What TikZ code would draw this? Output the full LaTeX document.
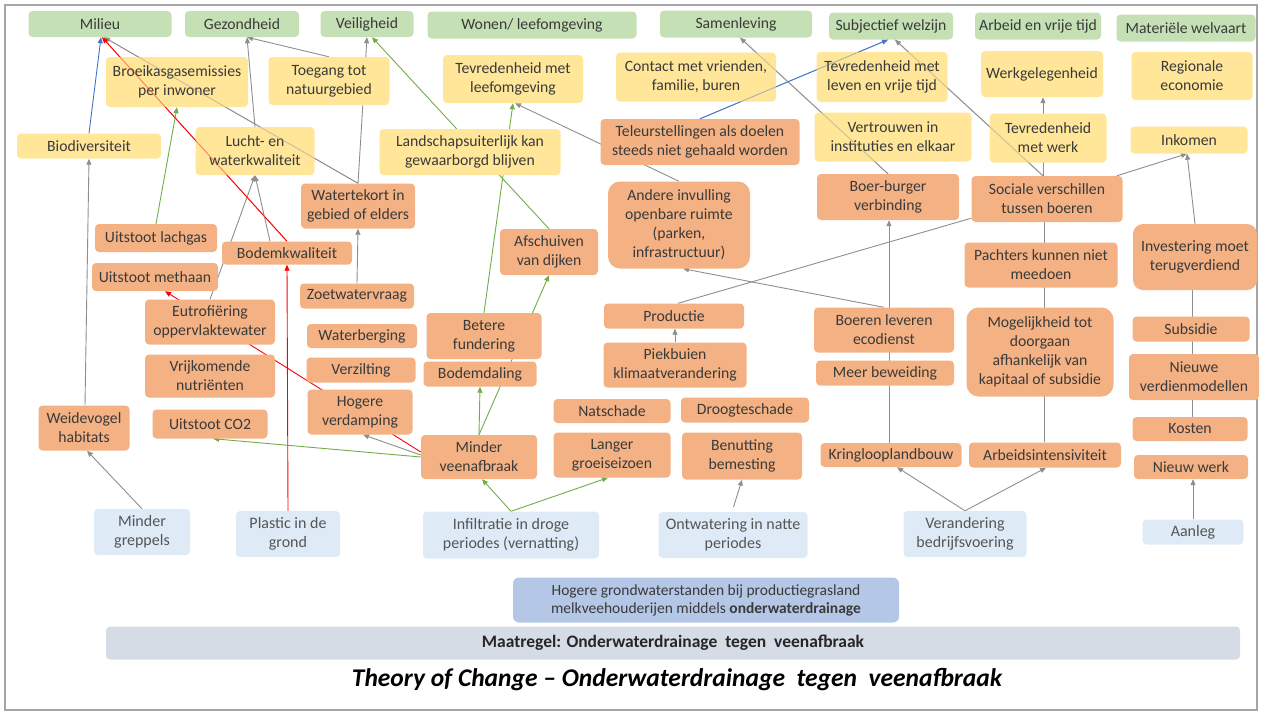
\documentclass[tikz,border=0pt]{standalone}
\usepackage{fontspec}
\setmainfont{Carlito}
\usetikzlibrary{arrows.meta,backgrounds}
\definecolor{cGreen}{HTML}{C5E0B4}
\definecolor{cYellow}{HTML}{FFE699}
\definecolor{cOrange}{HTML}{F4B183}
\definecolor{cLBlue}{HTML}{DEEBF7}
\definecolor{cMBlue}{HTML}{B4C7E7}
\definecolor{cBar}{HTML}{D6DCE5}
\definecolor{cTxt}{HTML}{3A3A3A}
\definecolor{cTxtL}{HTML}{555555}
\definecolor{cLine}{HTML}{8E8E8E}
\definecolor{cLGreen}{HTML}{70AD47}
\definecolor{cLRed}{HTML}{FF0000}
\definecolor{cLBlu}{HTML}{4472C4}
\definecolor{cFrame}{HTML}{A6A6A6}
\begin{document}
\begin{tikzpicture}[x=1pt,y=-1pt,
 box/.style={rounded corners=4pt, inner sep=1pt, align=center, text=cTxt, font=\fontsize{15.7}{19}\selectfont},
 sz/.style 2 args={minimum width=#1pt, minimum height=#2pt},
 gbox/.style={box,fill=cGreen},
 ybox/.style={box,fill=cYellow},
 obox/.style={box,fill=cOrange},
 bbox/.style={box,fill=cLBlue,text=cTxtL,font=\fontsize{16}{19}\selectfont},
 ln/.style={line width=0.9pt, draw=cLine},
 arr/.style={ln, -{Triangle[length=6pt,width=5pt]}},
 garr/.style={arr, draw=cLGreen},
 rarr/.style={arr, draw=cLRed},
 barr/.style={arr, draw=cLBlu},
 over/.style={line width=0.9pt, draw opacity=0.45}
]
\useasboundingbox (0,0) rectangle (1264,713);
% top row
\node[gbox,sz={143}{26}] (milieu) at (100,24) {Milieu};
\node[gbox,sz={114}{26}] (gezond) at (242,24) {Gezondheid};
\node[gbox,sz={93}{26}] (veilig) at (367,24) {Veiligheid};
\node[gbox,sz={209}{27}] (wonen) at (532,25) {Wonen/ leefomgeving};
\node[gbox,sz={152}{27}] (samen) at (736,24) {Samenleving};
\node[gbox,sz={124}{27}] (subj) at (891,26) {Subjectief welzijn};
\node[gbox,sz={126}{27}] (arbeid) at (1038,26) {Arbeid en vrije tijd};
\node[gbox,sz={139}{27}] (materi) at (1186,28) {Materiële welvaart};
% yellow
\node[ybox,sz={142}{50}] (broeik) at (177,82) {Broeikasgasemissies\\per inwoner};
\node[ybox,sz={121}{48}] (toegang) at (329,81) {Toegang tot\\natuurgebied};
\node[ybox,sz={144}{25}] (biodiv) at (89,146) {Biodiversiteit};
\node[ybox,sz={119}{48}] (lucht) at (255,151) {Lucht- en\\waterkwaliteit};
\node[ybox,sz={181}{46}] (landsch) at (470,152) {Landschapsuiterlijk kan\\gewaarborgd blijven};
\node[ybox,sz={140}{48}] (tevleef) at (513,79) {Tevredenheid met\\leefomgeving};
\node[ybox,sz={160}{49}] (contact) at (696,77) {Contact met vrienden,\\familie, buren};
\node[ybox,sz={131}{50}] (tevleven) at (882,77) {Tevredenheid met\\leven en vrije tijd};
\node[ybox,sz={122}{46}] (werkgel) at (1042,74) {Werkgelegenheid};
\node[ybox,sz={121}{48}] (regio) at (1192,76) {Regionale\\economie};
\node[ybox,sz={157}{49}] (vertr) at (893,137) {Vertrouwen in\\instituties en elkaar};
\node[ybox,sz={117}{49}] (tevwerk) at (1048,138) {Tevredenheid\\met werk};
\node[ybox,sz={117}{27}] (inkomen) at (1189,140) {Inkomen};
% orange
\node[obox,sz={199}{46}] (teleur) at (700,142) {Teleurstellingen als doelen\\steeds niet gehaald worden};
\node[obox,sz={142}{87},rounded corners=12pt] (andere) at (679,225) {Andere invulling\\openbare ruimte\\(parken,\\infrastructuur)};
\node[obox,sz={142}{46}] (boerburg) at (888,197) {Boer-burger\\verbinding};
\node[obox,sz={151}{46}] (sociaal) at (1047,199) {Sociale verschillen\\tussen boeren};
\node[obox,sz={114}{45}] (watert) at (358,206) {Watertekort in\\gebied of elders};
\node[obox,sz={122}{28}] (lachgas) at (156,238) {Uitstoot lachgas};
\node[obox,sz={130}{23}] (bodemk) at (287,253) {Bodemkwaliteit};
\node[obox,sz={126}{28}] (methaan) at (155,277) {Uitstoot methaan};
\node[obox,sz={114}{25}] (zoetw) at (357,296) {Zoetwatervraag};
\node[obox,sz={130}{45}] (eutro) at (210,322) {Eutrofiëring\\oppervlaktewater};
\node[obox,sz={110}{24}] (waterb) at (362,336) {Waterberging};
\node[obox,sz={130}{43}] (nutri) at (210,376) {Vrijkomende\\nutriënten};
\node[obox,sz={109}{25}] (verzilt) at (361,370) {Verzilting};
\node[obox,sz={91}{45}] (weide) at (84,428) {Weidevogel\\habitats};
\node[obox,sz={115}{29}] (co2) at (210,424) {Uitstoot CO2};
\node[obox,sz={105}{45}] (verdamp) at (360,412) {Hogere\\verdamping};
\node[obox,sz={115}{46}] (fundering) at (484,336) {Betere\\fundering};
\node[obox,sz={113}{25}] (bodemd) at (480,374) {Bodemdaling};
\node[obox,sz={98}{46}] (afschuiv) at (549,252) {Afschuiven\\van dijken};
\node[obox,sz={116}{44}] (veen) at (479,457) {Minder\\veenafbraak};
\node[obox,sz={140}{25}] (productie) at (674,316) {Productie};
\node[obox,sz={143}{45}] (piek) at (675,365) {Piekbuien\\klimaatverandering};
\node[obox,sz={117}{24}] (natsch) at (612,411) {Natschade};
\node[obox,sz={128}{25}] (droogte) at (745,410) {Droogteschade};
\node[obox,sz={117}{45}] (groei) at (612,455) {Langer\\groeiseizoen};
\node[obox,sz={120}{47}] (benut) at (742,456) {Benutting\\bemesting};
\node[obox,sz={140}{45}] (ecodienst) at (884,330) {Boeren leveren\\ecodienst};
\node[obox,sz={138}{25}] (beweid) at (885,373) {Meer beweiding};
\node[obox,sz={141}{24}] (kringloop) at (891,455) {Kringlooplandbouw};
\node[obox,sz={153}{45}] (pachters) at (1041,265) {Pachters kunnen niet\\meedoen};
\node[obox,sz={147}{89},rounded corners=12pt] (mogelijk) at (1040,352) {Mogelijkheid tot\\doorgaan\\afhankelijk van\\kapitaal of subsidie};
\node[obox,sz={152}{25}] (arbeidsint) at (1045,455) {Arbeidsintensiviteit};
\node[obox,sz={124}{66},rounded corners=10pt] (invest) at (1195,257) {Investering moet\\terugverdiend};
\node[obox,sz={117}{25}] (subsidie) at (1191,329) {Subsidie};
\node[obox,sz={130}{46}] (verdien) at (1194,377) {Nieuwe\\verdienmodellen};
\node[obox,sz={115}{24}] (kosten) at (1190,429) {Kosten};
\node[obox,sz={114}{24}] (nieuwwerk) at (1191,467) {Nieuw werk};
% light blue
\node[bbox,sz={96}{46}] (greppels) at (142,532) {Minder\\greppels};
\node[bbox,sz={104}{46}] (plastic) at (288,534) {Plastic in de\\grond};
\node[bbox,sz={176}{47}] (infiltr) at (511,535) {Infiltratie in droge\\periodes (vernatting)};
\node[bbox,sz={149}{46}] (ontwater) at (733,535) {Ontwatering in natte\\periodes};
\node[bbox,sz={123}{46}] (verander) at (965,534) {Verandering\\bedrijfsvoering};
\node[bbox,sz={101}{25}] (aanleg) at (1193,532) {Aanleg};
% bottom
\node[box,fill=cMBlue,sz={386}{45},rounded corners=6pt,font=\fontsize{15.5}{18}\selectfont,text=cTxt] (hogere) at (706,600) {Hogere grondwaterstanden bij productiegrasland\\melkveehouderijen middels \textbf{onderwaterdrainage}};
\node[box,fill=cBar,sz={1134}{33},rounded corners=4pt,font=\fontsize{17.5}{20}\selectfont\bfseries,text=black!85] (maatregel) at (673,643) {Maatregel: Onderwaterdrainage\ \ tegen\ \ veenafbraak};
\node[font=\fontsize{25.5}{30}\selectfont\bfseries\itshape,inner sep=0pt] (title) at (677,680) {Theory of Change – Onderwaterdrainage\ \ tegen\ \ veenafbraak};
% faint traces of connectors that show through some boxes
\draw[over,draw=cLine] (watert.north) -- ([xshift=4pt]milieu.south);
\draw[over,draw=cLRed] (bodemk.north) -- ([xshift=2pt]milieu.south);
\draw[over,draw=cLBlu] (teleur.north) -- ([xshift=-3pt]subj.south);
\draw[over,draw=cLine] (boerburg.north) -- ([xshift=4pt]samen.south);
\draw[over,draw=cLine] ([xshift=-4pt]sociaal.north) -- ([xshift=4pt]subj.south);
\begin{scope}[on background layer]
\draw[cFrame,line width=1.2pt] (5,5) rectangle (1257,710);
\draw[arr] (watert.north) -- ([xshift=4pt]milieu.south);
\draw[rarr] (bodemk.north) -- ([xshift=2pt]milieu.south);
\draw[barr] (teleur.north) -- ([xshift=-3pt]subj.south);
\draw[arr] (boerburg.north) -- ([xshift=4pt]samen.south);
\draw[arr] ([xshift=-4pt]sociaal.north) -- ([xshift=4pt]subj.south);
\draw[barr] (biodiv.north) -- ([xshift=1pt]milieu.south);
\draw[rarr] (plastic.north) -- (bodemk.south);
\draw[arr] (lucht.north) -- ([xshift=5pt]gezond.south);
\draw[arr] (toegang.north) -- ([xshift=5pt]gezond.south);
\draw[arr] (watert.north) -- (veilig.south);
\draw[garr] (afschuiv.north) -- ([xshift=5pt]veilig.south);
\draw[garr] (lachgas.north) -- (broeik.south);
\draw[arr] ([xshift=1pt]weide.north) -- (biodiv.south);
\draw[arr] (eutro.north) -- (lucht.south);
\draw[arr] ([xshift=-17pt]bodemk.north) -- (lucht.south);
\draw[rarr] ([yshift=5pt]veen.west) -- ([xshift=10pt]methaan.south);
\draw[arr] (zoetw.north) -- (watert.south);
\draw[arr] (greppels.north) -- ([xshift=3pt]weide.south);
\draw[garr] (veen.west) -- ([xshift=3pt]co2.south);
\draw[arr] ([yshift=2pt]veen.west) -- ([xshift=3pt]verdamp.south);
\draw[garr] (veen.north) -- (bodemd.south);
\draw[garr] (veen.north) -- (afschuiv.south);
\draw[garr] (fundering.north) -- (tevleef.south);
\draw[garr] (infiltr.north) -- ([xshift=3pt]veen.south);
\draw[garr] (infiltr.north) -- ([xshift=-4pt]groei.south);
\draw[arr] (andere.north) -- ([xshift=2pt]tevleef.south);
\draw[arr] ([xshift=-4pt]sociaal.north) -- ([xshift=1pt]werkgel.south);
\draw[arr] ([xshift=-6pt]sociaal.north east) -- ([xshift=-2pt]inkomen.south);
\draw[arr] (invest.north) -- ([xshift=-2pt]inkomen.south);
\draw[ln] ([xshift=4pt]productie.north) -- ([yshift=4pt]sociaal.south west);
\draw[arr] (ecodienst.north) -- ([xshift=4pt]andere.south);
\draw[arr] ([xshift=-2pt]kringloop.north) -- ([xshift=1pt]boerburg.south);
\draw[ln] ([xshift=-1pt]arbeidsint.north) -- ([xshift=-3pt]sociaal.south);
\draw[ln] ([xshift=2pt]kosten.north) -- ([xshift=-3pt]invest.south);
\draw[arr] (aanleg.north) -- ([xshift=2pt]nieuwwerk.south);
\draw[arr] (verander.north) -- ([xshift=6pt]kringloop.south);
\draw[arr] (verander.north) -- ([xshift=1pt]arbeidsint.south);
\draw[arr,shorten <=5pt] ([xshift=-1pt]ontwater.north) -- (benut.south);
\draw[arr] (piek.north) -- ([xshift=1pt]productie.south);
\end{scope}
\end{tikzpicture}
\end{document}
